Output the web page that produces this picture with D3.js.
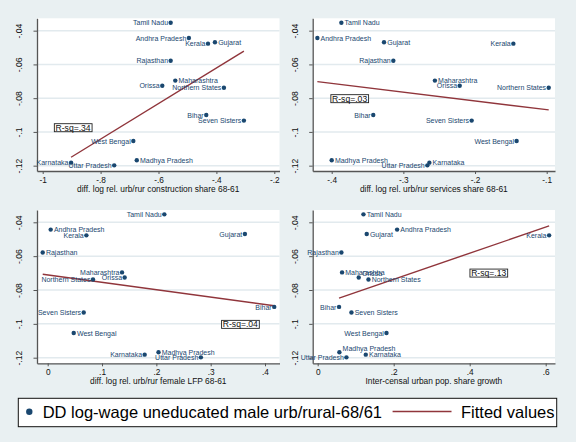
<!DOCTYPE html>
<html><head><meta charset="utf-8">
<script src="https://cdn.jsdelivr.net/npm/d3@7"></script>
<style>html,body{margin:0;padding:0;background:#e9f0f2}svg{display:block}</style>
</head><body><svg id="c" width="576" height="442"></svg>
<script>
// ---------- DATA ----------
const states = ["Tamil Nadu","Andhra Pradesh","Kerala","Gujarat","Rajasthan","Maharashtra","Orissa","Northern States","Bihar","Seven Sisters","West Bengal","Madhya Pradesh","Karnataka","Uttar Pradesh"];
const wageDD = [-0.0353,-0.0443,-0.0477,-0.0469,-0.0578,-0.0696,-0.0726,-0.0738,-0.0900,-0.0933,-0.1054,-0.1168,-0.1182,-0.1198];
const constructionShare = [-0.558,-0.495,-0.429,-0.405,-0.558,-0.542,-0.587,-0.374,-0.435,-0.305,-0.687,-0.675,-0.902,-0.753];
const servicesShare = [-0.3865,-0.420,-0.1465,-0.327,-0.314,-0.256,-0.2214,-0.0972,-0.342,-0.2047,-0.142,-0.400,-0.2637,-0.2665];
const femaleLFP = [0.2147,0.0055,0.0712,0.363,-0.0092,0.1368,0.1417,0.0834,0.417,0.0663,0.0479,0.204,0.1785,0.282];
const urbanGrowth = [0.1204,0.209,0.609,0.129,0.0624,0.0641,0.108,0.1336,0.0562,0.0888,0.181,0.0571,0.1265,0.0756];

const yTicks = [-0.04,-0.06,-0.08,-0.1,-0.12];
const yTickLabels = ["-.04","-.06","-.08","-.1","-.12"];
const xTicks1 = [-1,-0.8,-0.6,-0.4,-0.2];   const xTickLabels1 = ["-1","-.8","-.6","-.4","-.2"];
const xTicks2 = [-0.4,-0.3,-0.2,-0.1];      const xTickLabels2 = ["-.4","-.3","-.2","-.1"];
const xTicks3 = [0,0.1,0.2,0.3,0.4];        const xTickLabels3 = ["0",".1",".2",".3",".4"];
const xTicks4 = [0,0.2,0.4,0.6];            const xTickLabels4 = ["0",".2",".4",".6"];
const xTitles = ["diff. log rel. urb/rur construction share 68-61","diff. log rel. urb/rur services share 68-61","diff. log rel. urb/rur female LFP 68-61","Inter-censal urban pop. share growth"];
const rsqLabels = ["R-sq=.34","R-sq=.03","R-sq=.04","R-sq=.13"];
const rsqX = [-0.895,-0.375,0.3546,0.45];
const rsqY = [-0.0975,-0.0803,-0.1003,-0.070];
// marker label positions (r = right, l = left, ur = upper right)
const labPos1 = ["l","l","l","r","l","r","l","l","l","l","l","r","l","l"];
const labPos2 = ["r","r","l","r","l","r","l","l","l","l","l","r","r","l"];
const labPos3 = ["l","r","l","l","r","l","l","l","l","l","r","r","l","l"];
const labPos4 = ["r","r","l","r","l","r","ur","r","l","r","l","ur","r","l"];
const legendLabels = ["DD log-wage uneducated male urb/rural-68/61","Fitted values"];

// ---------- LAYOUT ----------
const NAVY = "#1a476f", MAROON = "#90353b", FONT = "'Liberation Sans', Arial, Helvetica, sans-serif";
const svg = d3.select("#c");
svg.append("rect").attr("width",576).attr("height",442).attr("fill","#e9f0f2");

const panels = [
  {xs: constructionShare, ticks: xTicks1, tl: xTickLabels1, pos: labPos1, l:37, r:279.5, t:18.3, b:171, xa:[42.7,274.3], ya:[30.67,165.67]},
  {xs: servicesShare,     ticks: xTicks2, tl: xTickLabels2, pos: labPos2, l:312.7, r:555, t:18.3, b:171, xa:[331.7,546.7], ya:[30.67,165.67]},
  {xs: femaleLFP,         ticks: xTicks3, tl: xTickLabels3, pos: labPos3, l:37, r:279.5, t:210, b:363.3, xa:[47.7,265], ya:[222.3,357.7]},
  {xs: urbanGrowth,       ticks: xTicks4, tl: xTickLabels4, pos: labPos4, l:312.7, r:555, t:210, b:363.3, xa:[317.7,545.7], ya:[222.3,357.7]}
];

panels.forEach((p, i) => {
  const t = p.ticks;
  const ax = d3.scaleLinear().domain([t[0], t[t.length-1]]).range(p.xa);
  const ay = d3.scaleLinear().domain([yTicks[0], yTicks[yTicks.length-1]]).range(p.ya);
  const x = d3.scaleLinear().domain([ax.invert(p.l), ax.invert(p.r)]).range([p.l, p.r]);
  const y = d3.scaleLinear().domain([ay.invert(p.b), ay.invert(p.t)]).range([p.b, p.t]);
  const g = svg.append("g");
  g.append("rect").attr("x",p.l).attr("y",p.t).attr("width",p.r-p.l).attr("height",p.b-p.t).attr("fill","#ffffff");
  // gridlines
  g.selectAll("line.grid").data(yTicks).enter().append("line")
    .attr("x1",p.l).attr("x2",p.r).attr("y1",d=>y(d)).attr("y2",d=>y(d))
    .attr("stroke","#e2eaee").attr("stroke-width",1.5);
  // axes
  const xAxis = d3.axisBottom(x).tickValues(t).tickFormat((d,k)=>p.tl[k]).tickSizeInner(3).tickSizeOuter(0).tickPadding(3);
  const gx = g.append("g").attr("transform",`translate(0,${p.b})`).call(xAxis);
  gx.select(".domain").attr("stroke","#555").attr("stroke-width",1.3);
  gx.selectAll(".tick line").attr("stroke","#555");
  gx.selectAll("text").attr("font-family",FONT).attr("font-size",8.3).attr("fill","#111").attr("dy",0).attr("y",12.2);
  const yAxis = d3.axisLeft(y).tickValues(yTicks).tickFormat((d,k)=>yTickLabels[k]).tickSizeInner(3.5).tickSizeOuter(0);
  const gy = g.append("g").attr("transform",`translate(${p.l},0)`).call(yAxis);
  gy.select(".domain").attr("stroke","#555").attr("stroke-width",1.3);
  gy.selectAll(".tick line").attr("stroke","#555");
  gy.selectAll("text").attr("font-family",FONT).attr("font-size",8.6).attr("fill","#111")
    .attr("transform","rotate(-90)").attr("x",0).attr("y",-14.8).attr("dy",0).attr("text-anchor","middle");
  // axis title
  g.append("text").attr("x",(p.l+p.r)/2).attr("y",p.b+20.6).attr("text-anchor","middle")
    .attr("font-family",FONT).attr("font-size",8.4).attr("fill","#111").text(xTitles[i]);
  // fitted line (OLS)
  const n = states.length;
  const mx = d3.mean(p.xs), my = d3.mean(wageDD);
  let sxy = 0, sxx = 0;
  for (let k=0;k<n;k++){ sxy += (p.xs[k]-mx)*(wageDD[k]-my); sxx += (p.xs[k]-mx)**2; }
  const b = sxy/sxx, a = my - b*mx;
  const [x0, x1] = d3.extent(p.xs);
  g.append("line").attr("x1",x(x0)).attr("y1",y(a+b*x0)).attr("x2",x(x1)).attr("y2",y(a+b*x1))
    .attr("stroke",MAROON).attr("stroke-width",1.4);
  // points
  g.selectAll("circle.pt").data(states).enter().append("circle")
    .attr("cx",(d,k)=>x(p.xs[k])).attr("cy",(d,k)=>y(wageDD[k])).attr("r",2.2).attr("fill",NAVY);
  // labels
  g.selectAll("text.lab").data(states).enter().append("text")
    .attr("x",(d,k)=>x(p.xs[k]) + (p.pos[k]==="l" ? -2.6 : 3.2))
    .attr("y",(d,k)=>y(wageDD[k]) + (p.pos[k]==="ur" ? -1.4 : 2.6))
    .attr("text-anchor",(d,k)=>p.pos[k]==="l" ? "end" : "start")
    .attr("font-family",FONT).attr("font-size",7).attr("fill",NAVY).text(d=>d);
  // R-sq box
  const tx = g.append("text").attr("x",x(rsqX[i])).attr("y",y(rsqY[i])+3).attr("text-anchor","middle")
    .attr("font-family",FONT).attr("font-size",8.6).attr("fill","#111").text(rsqLabels[i]);
  const bb = tx.node().getBBox();
  g.insert("rect", () => tx.node()).attr("x",bb.x-1.2).attr("y",y(rsqY[i])-4).attr("width",bb.width+2.4).attr("height",8)
    .attr("fill","#fff").attr("stroke","#222").attr("stroke-width",0.9);
});

// ---------- LEGEND ----------
const lg = svg.append("g");
lg.append("rect").attr("x",18.3).attr("y",398.3).attr("width",538.4).attr("height",28.4).attr("fill","#fff").attr("stroke","#111").attr("stroke-width",1);
lg.append("circle").attr("cx",29.3).attr("cy",411.7).attr("r",3.2).attr("fill",NAVY);
lg.append("text").attr("x",42.7).attr("y",417.5).attr("font-family",FONT).attr("font-size",16.5).attr("fill","#000").text(legendLabels[0]);
lg.append("line").attr("x1",392.6).attr("x2",451.5).attr("y1",411.6).attr("y2",411.6).attr("stroke",MAROON).attr("stroke-width",1.5);
lg.append("text").attr("x",461).attr("y",417.5).attr("font-family",FONT).attr("font-size",16.5).attr("fill","#000").text(legendLabels[1]);
</script></body></html>
